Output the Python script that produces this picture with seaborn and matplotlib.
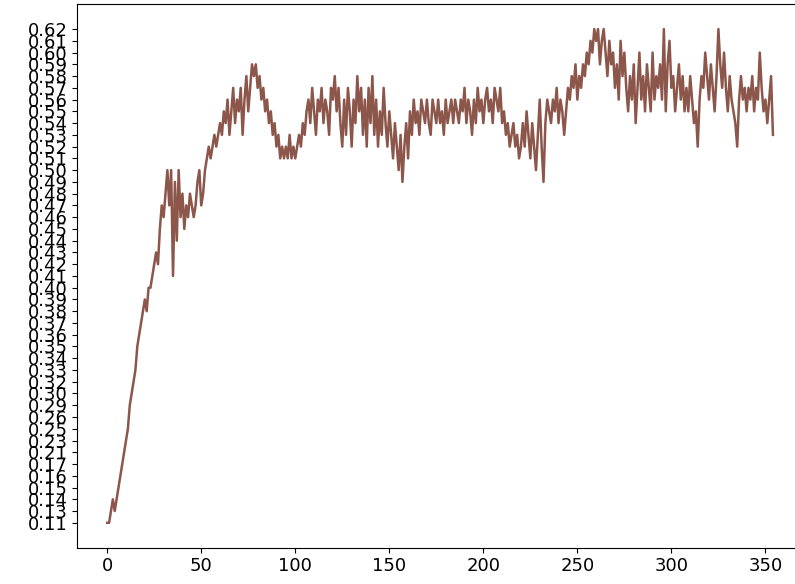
import numpy as np
import pandas as pd
import matplotlib
matplotlib.use("Agg")
import matplotlib.pyplot as plt
import seaborn as sns

# y axis is categorical (values were stored as strings), bottom -> top
y_labels = ["0.11", "0.13", "0.14", "0.15", "0.16", "0.17", "0.21", "0.23",
            "0.25", "0.26", "0.29", "0.30", "0.32", "0.33", "0.34", "0.35",
            "0.36", "0.37", "0.38", "0.39", "0.40", "0.41", "0.42", "0.43",
            "0.44", "0.45", "0.46", "0.47", "0.48", "0.49", "0.50", "0.51",
            "0.52", "0.53", "0.54", "0.55", "0.56", "0.57", "0.58", "0.59",
            "0.60", "0.61", "0.62"]

# epochs 0-60
rise = [0.11, 0.11, 0.13, 0.14, 0.13, 0.14, 0.15, 0.16, 0.17, 0.21, 0.23,
        0.25, 0.29, 0.30, 0.32, 0.33, 0.35, 0.36, 0.37, 0.38, 0.39, 0.38,
        0.40, 0.40, 0.41, 0.42, 0.43, 0.42, 0.45, 0.47, 0.46,
        0.48, 0.50, 0.47, 0.50, 0.41, 0.49, 0.44, 0.50, 0.46, 0.48, 0.45,
        0.47, 0.46, 0.48, 0.47,
        0.46, 0.47, 0.49, 0.50, 0.47, 0.48, 0.50,
        0.51, 0.52, 0.51, 0.52, 0.53, 0.52, 0.53, 0.54]

# epochs 61-150
plateau_early = [0.53, 0.55, 0.54, 0.56, 0.53, 0.55, 0.57, 0.54, 0.56, 0.55,
                 0.57, 0.53, 0.56, 0.58, 0.55,
                 0.57, 0.59, 0.58, 0.59, 0.57, 0.58, 0.56,
                 0.57, 0.55, 0.56, 0.54, 0.55, 0.53, 0.54, 0.52, 0.53, 0.51,
                 0.52, 0.51, 0.52, 0.51, 0.53, 0.51, 0.52, 0.51, 0.52, 0.53,
                 0.52, 0.54, 0.53,
                 0.55, 0.56, 0.54, 0.57, 0.55, 0.53, 0.56, 0.55, 0.57, 0.54,
                 0.56, 0.55, 0.53, 0.57, 0.56, 0.58, 0.55, 0.57, 0.54, 0.52,
                 0.56, 0.53, 0.57, 0.55, 0.52, 0.56, 0.54, 0.58, 0.55, 0.57,
                 0.53, 0.56, 0.52, 0.57, 0.54, 0.58, 0.53, 0.56, 0.52, 0.55,
                 0.53, 0.57, 0.54, 0.52, 0.55]

# epochs 151-255
plateau_mid = [0.53, 0.51, 0.54, 0.52, 0.50, 0.53, 0.49, 0.52, 0.54, 0.51,
               0.55, 0.53,
               0.56, 0.54, 0.55, 0.53, 0.56, 0.55, 0.54, 0.56, 0.54, 0.53,
               0.56, 0.55, 0.54, 0.56, 0.54, 0.55, 0.53, 0.56, 0.54, 0.55,
               0.56, 0.54, 0.56, 0.55, 0.54, 0.56, 0.55, 0.57, 0.54, 0.56,
               0.55, 0.53, 0.56, 0.54, 0.57, 0.55, 0.56, 0.54,
               0.56, 0.57, 0.55, 0.56, 0.54, 0.57, 0.56, 0.55, 0.57, 0.54,
               0.55, 0.53, 0.54, 0.52, 0.53,
               0.54, 0.52, 0.53, 0.51, 0.52, 0.54, 0.52, 0.55, 0.53, 0.51,
               0.54, 0.52, 0.50, 0.53, 0.56, 0.52, 0.49, 0.54, 0.56, 0.55,
               0.54, 0.56, 0.55, 0.57, 0.54, 0.56, 0.55, 0.53, 0.55, 0.57,
               0.56, 0.58, 0.57, 0.59, 0.56, 0.58, 0.57, 0.59, 0.58, 0.60]

# epochs 256-354
plateau_late = [0.59, 0.61, 0.60, 0.62, 0.61, 0.62, 0.59, 0.61, 0.62, 0.60,
                0.58, 0.61, 0.59, 0.60, 0.57,
                0.59, 0.56, 0.61, 0.58, 0.60, 0.57, 0.55, 0.58, 0.56, 0.59,
                0.54, 0.57, 0.60, 0.56, 0.58, 0.55, 0.59, 0.57, 0.55, 0.60,
                0.56, 0.58, 0.57, 0.59, 0.56, 0.62, 0.55, 0.59, 0.61, 0.57,
                0.58, 0.55, 0.57, 0.59, 0.56, 0.58, 0.55, 0.57, 0.55, 0.58,
                0.56, 0.54, 0.55, 0.52, 0.56, 0.58, 0.57, 0.60, 0.58, 0.56,
                0.59, 0.57, 0.55, 0.58, 0.62, 0.59, 0.57, 0.60, 0.57, 0.55,
                0.58, 0.56, 0.55, 0.54, 0.52, 0.56, 0.58, 0.56, 0.57, 0.55,
                0.57, 0.56, 0.58, 0.55, 0.57, 0.56, 0.60, 0.57, 0.55, 0.56,
                0.54, 0.56, 0.58, 0.53]

values = rise + plateau_early + plateau_mid + plateau_late
epochs = np.arange(len(values))

# put the string values on the categorical axis in label order
pos = {lab: i for i, lab in enumerate(y_labels)}
df = pd.DataFrame({"epoch": epochs,
                   "acc": [f"{v:.2f}" for v in values]})
df["acc_pos"] = df["acc"].map(pos)

fig = plt.figure(figsize=(7.95, 5.84), dpi=100)
# the plot is cut off on the right, so the axes run past the figure edge
ax = fig.add_axes([0.097, 0.0625, 0.95, 0.930])

sns.lineplot(data=df, x="epoch", y="acc_pos", color="#8c564b",
             linewidth=1.8, ax=ax)

ax.set_xlim(-16, 385.6)
ax.set_yticks(range(len(y_labels)))
ax.set_yticklabels(y_labels)
ax.set_xlabel("")
ax.set_ylabel("")
ax.tick_params(labelsize=13)

fig.savefig("out.png", dpi=100)
